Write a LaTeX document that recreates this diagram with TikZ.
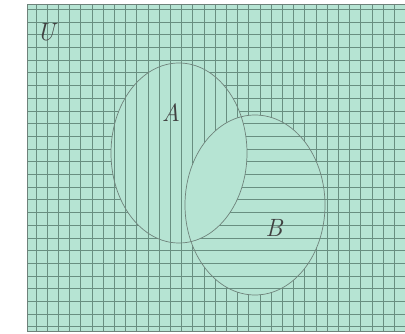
\documentclass[tikz,border=0pt]{standalone}
\usepackage{tikz}
\definecolor{mint}{RGB}{182,228,211}
\definecolor{hatch}{RGB}{104,142,128}
\definecolor{rim}{RGB}{110,130,122}

% the two sets and the universe
\newcommand\universe{(27,4) rectangle (405,331)}
\newcommand\setA{(179,153) ellipse [x radius=68pt, y radius=90pt]}
\newcommand\setB{(255,205) ellipse [x radius=70pt, y radius=90pt]}
% hatching
\newcommand\vhatch{\foreach \x in {36,47.2,...,405} \draw[vline] (\x,4) -- (\x,331);}
\newcommand\hhatch{\foreach \y in {9.5,22.2,...,331} \draw[hline] (27,\y) -- (405,\y);}

\begin{document}
\begin{tikzpicture}[x=1pt, y=-1pt,
      vline/.style={draw=hatch, line width=1pt},
      hline/.style={draw=hatch, line width=1pt},
      rimline/.style={draw=rim, line width=0.7pt},
      setname/.style={font=\fontsize{25}{25}\selectfont\itshape, text=black!75},
    ]
    \useasboundingbox (0,0) rectangle (405,334);

    % Universe: grid everywhere
    \fill[mint] \universe;
    \begin{scope}
      \clip \universe;
      \vhatch
      \hhatch
    \end{scope}

    % A: vertical lines only
    \fill[mint] \setA;
    \begin{scope}
      \clip \setA;
      \vhatch
    \end{scope}

    % B: horizontal lines only
    \fill[mint] \setB;
    \begin{scope}
      \clip \setB;
      \hhatch
    \end{scope}

    % A and B: plain
    \begin{scope}
      \clip \setA;
      \fill[mint] \setB;
    \end{scope}

    % Outlines
    \draw[rimline] \setA;
    \draw[rimline] \setB;
    \draw[draw=rim, line width=0.8pt] \universe;

    % Labels
    \node[setname] (U) at (46,32) {U};
    \node[setname] (A) at (171,113) {A};
    \node[setname] (B) at (274,228) {B};
  \end{tikzpicture}
\end{document}
